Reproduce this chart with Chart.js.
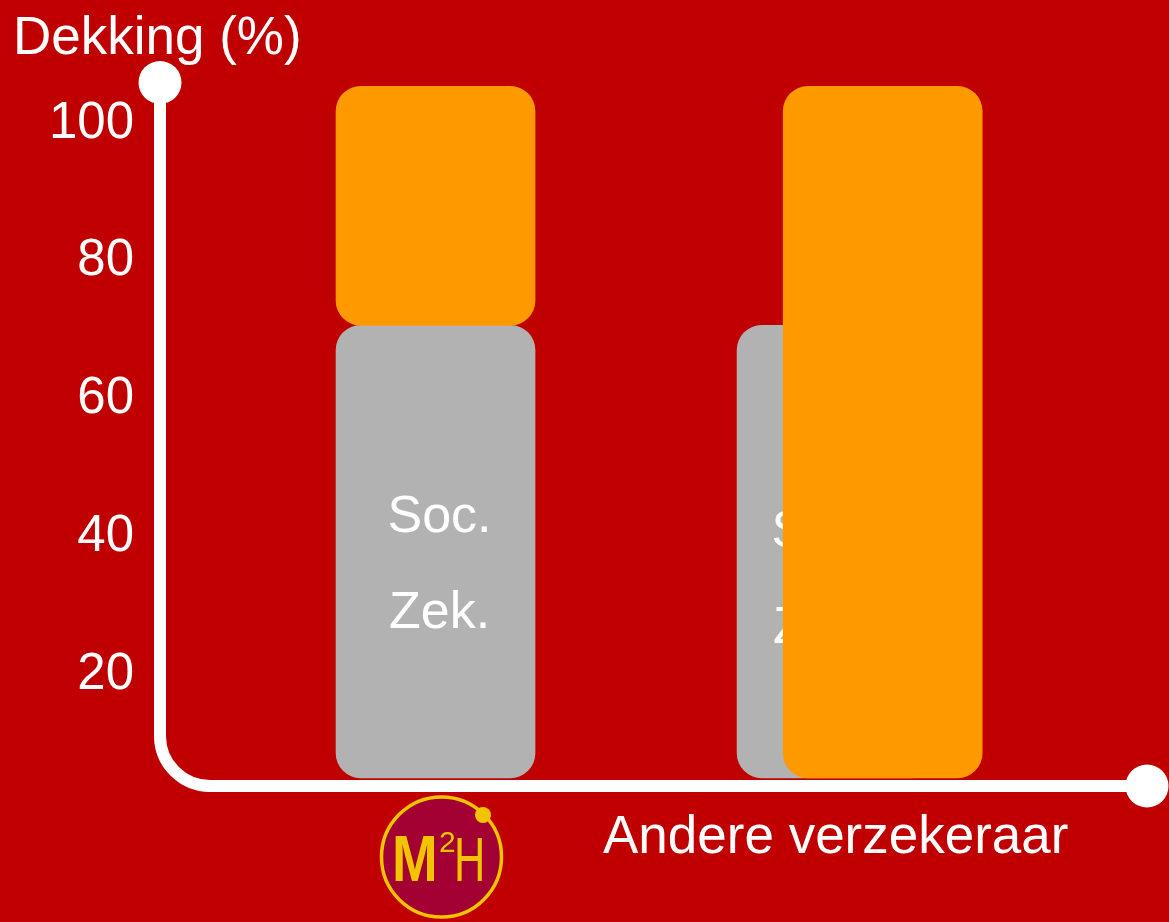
<!DOCTYPE html>
<html><head><meta charset="utf-8">
<script src="https://cdn.jsdelivr.net/npm/chart.js@4.4.1/dist/chart.umd.min.js"></script>
<style>html,body{margin:0;padding:0;background:#c00000;}canvas{display:block}</style>
</head><body>
<canvas id="c" width="1169" height="922"></canvas>
<script>
// ---- data ----
const categories = ['Soc. Zek.', 'Andere verzekeraar'];
const socZekPositions = [1, 2];
const socZekRanges = [[5, 70.7], [5, 70.7]];
const extraPositions = [1, 2.115];
const extraRanges = [[70.7, 105.4], [5, 105.4]];
const yTicks = [20, 40, 60, 80, 100];
const barLabelLines = ['Soc.', 'Zek.'];
const barLabelDx = [4, -13];
const barLabelDy = [0, 15];
const yTitle = 'Dekking (%)';
const xTitle = 'Andere verzekeraar';

const FONT = "'Liberation Sans', Arial, sans-serif";
const BG = '#c00000';

const deco = {
  id: 'deco',
  beforeDraw(chart) {
    const ctx = chart.ctx;
    ctx.save();
    ctx.fillStyle = BG;
    ctx.fillRect(0, 0, chart.width, chart.height);
    ctx.restore();
  },
  afterDatasetDraw(chart, args) {
    if (args.index !== 0) return;
    const ctx = chart.ctx;
    const meta = args.meta;
    ctx.save();
    ctx.fillStyle = '#ffffff';
    ctx.font = '52px ' + FONT;
    ctx.textAlign = 'center';
    ctx.textBaseline = 'alphabetic';
    meta.data.forEach((bar, i) => {
      const cy = (bar.y + bar.base) / 2;
      const x = bar.x + barLabelDx[i];
      ctx.fillText(barLabelLines[0], x, cy - 19.5 + barLabelDy[i]);
      ctx.fillText(barLabelLines[1], x, cy + 76 + barLabelDy[i]);
    });
    ctx.restore();
  },
  afterDraw(chart) {
    const ctx = chart.ctx;
    const ca = chart.chartArea;
    const L = ca.left, B = ca.bottom, T = ca.top, R = ca.right;
    const r = 50;
    ctx.save();
    ctx.strokeStyle = '#ffffff';
    ctx.lineWidth = 12;
    ctx.beginPath();
    ctx.moveTo(L, T);
    ctx.lineTo(L, B - r);
    ctx.arcTo(L, B, L + r, B, r);
    ctx.lineTo(R, B);
    ctx.stroke();
    ctx.fillStyle = '#ffffff';
    ctx.beginPath(); ctx.arc(L, T - 1.5, 21.5, 0, Math.PI * 2); ctx.fill();
    ctx.beginPath(); ctx.arc(R, B, 21.5, 0, Math.PI * 2); ctx.fill();
    ctx.font = '53px ' + FONT;
    ctx.textAlign = 'left';
    ctx.textBaseline = 'alphabetic';
    ctx.fillText(yTitle, 13, 54);
    ctx.fillText(xTitle, 603, 853);
    // logo
    const cx = 441.5, cy = 857;
    ctx.fillStyle = '#a30034';
    ctx.beginPath(); ctx.arc(cx, cy, 60, 0, Math.PI * 2); ctx.fill();
    ctx.strokeStyle = '#f2c400';
    ctx.lineWidth = 3.5;
    ctx.stroke();
    ctx.fillStyle = '#f2c400';
    ctx.beginPath(); ctx.arc(483, 815, 8, 0, Math.PI * 2); ctx.fill();
    ctx.save();
    ctx.translate(392, 881);
    ctx.scale(0.87, 1.02);
    ctx.font = 'bold 63px ' + FONT;
    ctx.fillText('M', 0, 0);
    ctx.restore();
    ctx.font = '30px ' + FONT;
    ctx.fillText('2', 439, 852);
    ctx.save();
    ctx.translate(454, 881);
    ctx.scale(0.7, 1.02);
    ctx.font = '62px ' + FONT;
    ctx.fillText('H', 0, 0);
    ctx.restore();
    ctx.restore();
  }
};

new Chart(document.getElementById('c'), {
  type: 'bar',
  data: {
    datasets: [
      {
        label: categories[0],
        data: socZekPositions.map((x, i) => ({ x, y: socZekRanges[i] })),
        backgroundColor: '#b2b2b2',
        order: 2
      },
      {
        label: categories[1],
        data: extraPositions.map((x, i) => ({ x, y: extraRanges[i] })),
        backgroundColor: '#ff9900',
        order: 1
      }
    ]
  },
  options: {
    responsive: false,
    devicePixelRatio: 1,
    animation: false,
    events: [],
    layout: { padding: { left: 0, top: 84, right: 22, bottom: 136 } },
    datasets: {
      bar: { grouped: false, barThickness: 199, borderRadius: 25, borderSkipped: false, borderWidth: 0 }
    },
    plugins: { legend: { display: false }, tooltip: { enabled: false }, title: { display: false } },
    scales: {
      x: { type: 'linear', offset: false, min: 0.313, max: 2.774, display: false },
      y: {
        min: 3.81, max: 105.74,
        afterBuildTicks: s => { s.ticks = yTicks.map(v => ({ value: v })); },
        afterFit: s => { s.width = 160; },
        grid: { display: false, drawTicks: false },
        border: { display: false },
        ticks: { color: '#ffffff', padding: 26, font: { size: 51, family: FONT } }
      }
    }
  },
  plugins: [deco]
});
</script>
</body></html>
